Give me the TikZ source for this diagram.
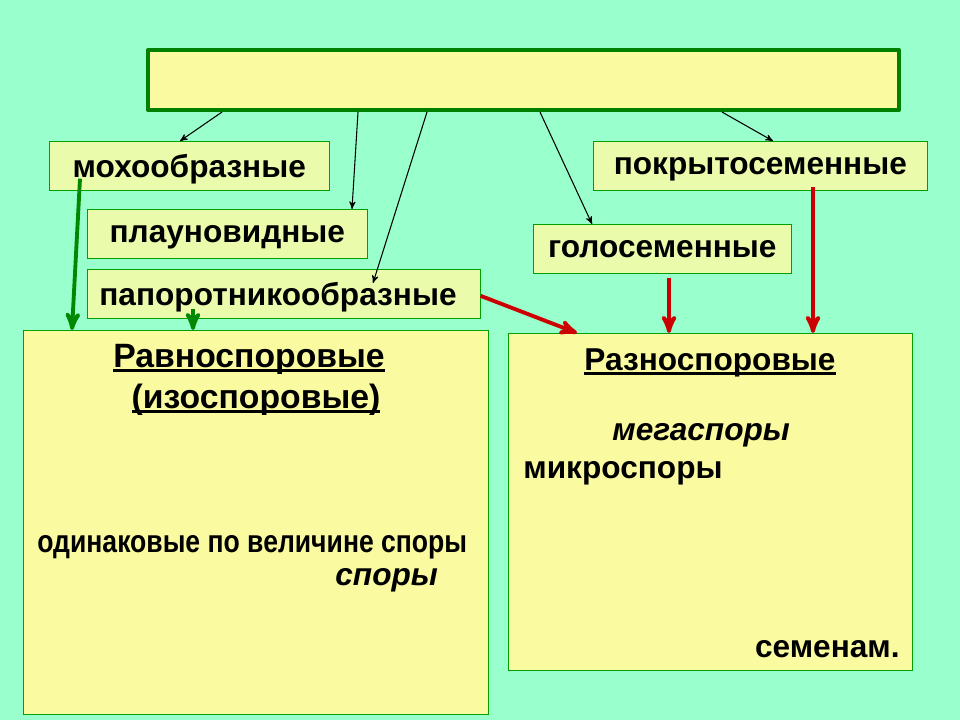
\documentclass[tikz,border=0pt]{standalone}
\usepackage{fontspec}
\setmainfont{Liberation Sans}
\usetikzlibrary{calc}
\usetikzlibrary{arrows}

\definecolor{fon}{RGB}{153,255,204}
\definecolor{zhelt}{RGB}{250,251,160}
\definecolor{svzhelt}{RGB}{234,252,172}
\definecolor{ramka}{RGB}{0,160,0}
\definecolor{tzel}{RGB}{0,128,0}
\definecolor{krasn}{RGB}{204,0,0}

\newcommand{\uzk}[1]{\scalebox{0.84}[1]{#1}}
\newcommand{\podch}[1]{\setbox0\hbox{#1}\rlap{\rule[-2.6pt]{\wd0}{1.3pt}}\box0}

\begin{document}
\begin{tikzpicture} [x=0.02cm, y=-0.02cm, font=\fontsize{18}{21}\selectfont\bfseries,
 vid/.style={draw=ramka, fill=svzhelt, anchor=north west, inner sep=0, minimum height=0.98cm, text depth=0pt},
 tip/.style={draw=ramka, fill=zhelt, anchor=north west, inner sep=0},
 zag/.style={anchor=base, font=\fontsize{19.2}{23}\selectfont\bfseries},
 tonk/.style={black, line width=0.6pt, ->, >=stealth'},
 zel/.style={ramka!85!black, line width=2.2pt, ->, >=stealth'},
 kra/.style={krasn, line width=2.2pt, ->, >=stealth'}]
\useasboundingbox (0,0) rectangle (960,720);
\fill[fon] (0,0) rectangle (960,720);

% verkhnij blok
\node[fill=zhelt, draw=tzel, line width=2.3pt, line join=round, anchor=north west, inner sep=0,
 minimum width=15.02cm, minimum height=1.2cm] (top) at (146,48) {};

% otdely
\node[vid, minimum width=5.6cm]  (moh)   at (49,141)  {мохообразные};
\node[vid, minimum width=5.6cm]  (plaun) at (87,209)  {плауновидные};
\node[vid, minimum width=7.86cm] (papor) at (87,269)  {\makebox[7.86cm][l]{\hspace{0.24cm}папоротникообразные}};
\node[vid, minimum width=5.16cm] (golos) at (533,224) {голосеменные};
\node[vid, minimum width=6.68cm] (pokr)  at (593,141) {покрытосеменные};

% tipy spor
\node[tip, minimum width=9.3cm, minimum height=7.68cm]  (ravno) at (23,330) {};
\node[tip, minimum width=8.08cm, minimum height=6.74cm] (razno) at (508,333) {};

\node[zag] (ravt) at (249,367) {\podch{Равноспоровые}};
\node[zag] (izot) at (256,408) {\podch{(изоспоровые)}};
\node[anchor=base west, inner sep=0] (odin) at (37,552) {\uzk{одинаковые по величине споры}};
\node[anchor=base west, inner sep=0] (spor) at (335,585) {\itshape споры};

\node[anchor=base] (razt) at (710,370) {\podch{Разноспоровые}};
\node[anchor=base west, inner sep=0] (mega) at (612,440) {\itshape мегаспоры};
\node[anchor=base west, inner sep=0] (mikr) at (523,478) {микроспоры};
\node[anchor=base east, inner sep=0] (sem)  at (900,657) {семенам.};

% strelki
\foreach \n/\x in {a/222,b/358,c/427,d/540,e/722}
 \coordinate (v\n) at (\x,0 |- top.south);
\coordinate (pc) at ($(papor.north west)+(286,14)$);
\draw[tonk] (va) -- (180,0 |- moh.north);
\draw[tonk] (vb) -- (352,0 |- plaun.north);
\draw[tonk] (vc) -- (pc);
\draw[tonk] (vd) -- (592,0 |- golos.north);
\draw[tonk] (ve) -- (773,0 |- pokr.north);

\coordinate (mz) at ($(moh.south west)+(31,-12)$);
\draw[zel] (mz) -- (72,0 |- ravno.north);
\draw[zel] (193,0 |- papor.south) ++(0,-10) -- (193,0 |- ravno.north);

\draw[kra] (papor.east) ++(0,2) -- (577,0 |- razno.north);
\draw[kra] (669,0 |- golos.south) ++(0,4) -- (669,0 |- razno.north);
\draw[kra] (813,0 |- pokr.south) ++(0,-4) -- (813,0 |- razno.north);
\end{tikzpicture}
\end{document}
